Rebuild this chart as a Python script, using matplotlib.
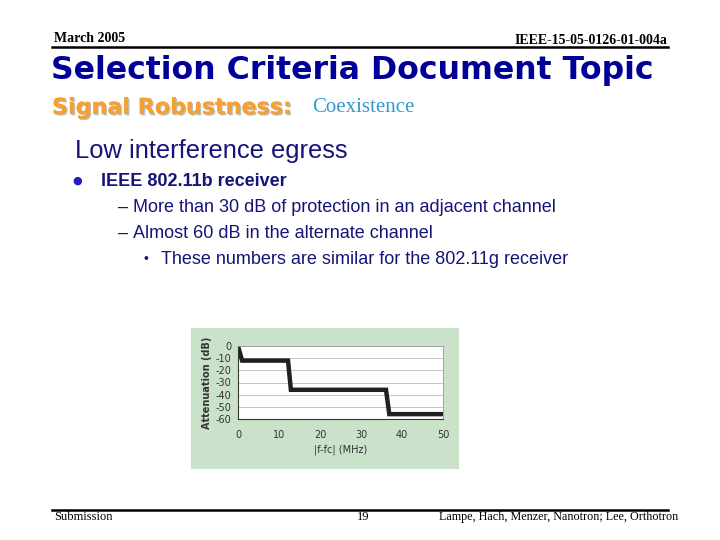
import numpy as np
import matplotlib
matplotlib.use("Agg")
import matplotlib.pyplot as plt
from matplotlib.patches import Rectangle
import matplotlib.patheffects as pe

plt.rcParams["axes.unicode_minus"] = False

# receiver attenuation vs frequency offset
freq_mhz = [0, 1.0, 12.2, 12.9, 36.1, 36.9, 50]
atten_db = [0, -12, -12, -36, -36, -56, -56]
xticks = [0, 10, 20, 30, 40, 50]
yticks = [0, -10, -20, -30, -40, -50, -60]

bullets = [
    "More than 30 dB of protection in an adjacent channel",
    "Almost 60 dB in the alternate channel",
]
sub_bullet = "These numbers are similar for the 802.11g receiver"

fig = plt.figure(figsize=(7.2, 5.4), dpi=100)
W, H = 720, 540

def fx(px):
    return px / W

def fy(py):
    return 1 - py / H

serif = "Liberation Serif"
sans = "Liberation Sans"
wide = "DejaVu Sans"
navy = "#14147a"

# header
fig.text(fx(54), fy(38), "March 2005", family=serif, fontsize=10, weight="bold", va="center")
fig.text(fx(667), fy(40), "IEEE-15-05-0126-01-004a", family=serif, fontsize=10, weight="bold",
         va="center", ha="right")
fig.add_artist(plt.Line2D([fx(52), fx(668)], [fy(47), fy(47)], color="black", lw=1.8))

fig.text(fx(51), fy(70), "Selection Criteria Document Topic", family=wide, fontsize=22.7,
         weight="bold", color="#000099", va="center")
fig.text(fx(52), fy(108), "Signal Robustness:", family=wide, fontsize=16, weight="bold",
         color="#f5a030", va="center",
         path_effects=[pe.withSimplePatchShadow(offset=(1, -1), shadow_rgbFace="#b0b0b0", alpha=0.8),
                       pe.Normal()])
fig.text(fx(312), fy(108), "Coexistence", family=serif, fontsize=15, color="#3399cc", va="center")

# body text
fig.text(fx(75), fy(151), "Low interference egress", family=sans, fontsize=18.4, color=navy, va="center")
fig.text(fx(72), fy(181), "\u25cf", family="DejaVu Sans", fontsize=8, color="#2020c0", va="center")
fig.text(fx(101), fy(181), "IEEE 802.11b receiver", family=sans, fontsize=13, weight="bold",
         color=navy, va="center")
for i, b in enumerate(bullets):
    y = 207 + 26 * i
    fig.text(fx(118), fy(y), "\u2013", family=sans, fontsize=13, color=navy, va="center")
    fig.text(fx(133), fy(y), b, family=sans, fontsize=13, color=navy, va="center")
fig.text(fx(143), fy(259), "\u2022", family=sans, fontsize=10, color=navy, va="center")
fig.text(fx(161), fy(259), sub_bullet, family=sans, fontsize=13, color=navy, va="center")

# footer
fig.add_artist(plt.Line2D([fx(52), fx(668)], [fy(510), fy(510)], color="black", lw=1.8))
fig.text(fx(54), fy(517), "Submission", family=serif, fontsize=9, va="center")
fig.text(fx(357), fy(517), "19", family=serif, fontsize=9, va="center")
fig.text(fx(678), fy(517), "Lampe, Hach, Menzer, Nanotron; Lee, Orthotron", family=serif,
         fontsize=8.75, va="center", ha="right")

# embedded chart with green frame
fig.add_artist(Rectangle((fx(191), fy(469)), 268 / W, 141 / H, transform=fig.transFigure,
                         facecolor="#c9e2c9", edgecolor="none", zorder=0))
ax = fig.add_axes([fx(238), fy(419), 205 / W, 73 / H])
ax.set_facecolor("white")
ax.plot(freq_mhz, atten_db, color="#202020", lw=3.2, solid_joinstyle="miter")
ax.set_xlim(0, 50)
ax.set_ylim(-60, 0)
ax.set_xticks(xticks)
ax.set_yticks(yticks)
ax.grid(axis="y", color="#bbbbbb", lw=0.6)
ax.set_axisbelow(True)
ax.tick_params(labelsize=7, length=0, colors="#333333")
ax.tick_params(axis="x", pad=8)
ax.tick_params(axis="y", pad=5)
for s in ["top", "right"]:
    ax.spines[s].set_color("#999999")
    ax.spines[s].set_linewidth(0.6)
for s in ["left", "bottom"]:
    ax.spines[s].set_color("#333333")
    ax.spines[s].set_linewidth(0.8)
ax.set_ylabel("Attenuation (dB)", fontsize=7, weight="bold", color="#333333", labelpad=2)
ax.set_xlabel("|f-fc| (MHz)", fontsize=7, color="#333333", labelpad=3)

fig.savefig("out.png", dpi=100)
